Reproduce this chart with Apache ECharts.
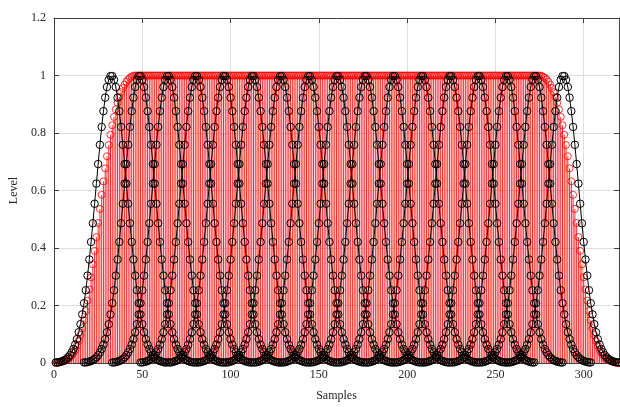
<!DOCTYPE html>
<html>
<head>
<meta charset="utf-8">
<script src="https://cdn.jsdelivr.net/npm/echarts@6/dist/echarts.min.js"></script>
<style>
  html, body { margin: 0; padding: 0; background: #fff; }
  #chart { width: 620px; height: 407px; }
</style>
</head>
<body>
<div id="chart"></div>
<script>
// One analysis window (64 samples), reused at every hop position
const windowShape = [
  0.002, 0.002, 0.003, 0.005, 0.007, 0.010, 0.014, 0.020, 0.027, 0.037,
  0.049, 0.064, 0.083, 0.107, 0.135, 0.169, 0.208, 0.253, 0.304, 0.360,
  0.421, 0.486, 0.554, 0.624, 0.692, 0.759, 0.821, 0.876, 0.923, 0.960,
  0.985, 0.998, 0.998, 0.985, 0.960, 0.923, 0.876, 0.821, 0.759, 0.692,
  0.624, 0.554, 0.486, 0.421, 0.360, 0.304, 0.253, 0.208, 0.169, 0.135,
  0.107, 0.083, 0.064, 0.049, 0.037, 0.027, 0.020, 0.014, 0.010, 0.007,
  0.005, 0.003, 0.002, 0.002
];

// First sample of each window (hop of 16 samples)
const windowStarts = [1, 17, 33, 49, 65, 81, 97, 113, 129, 145, 161, 177, 193, 209, 225, 241, 257];

// Normalised overlap-add of all windows, samples 1..320
const overlapSum = [
  0.000, 0.001, 0.002, 0.003, 0.005, 0.007, 0.010, 0.014, 0.019, 0.026,
  0.035, 0.046, 0.060, 0.077, 0.097, 0.121, 0.149, 0.181, 0.217, 0.256,
  0.298, 0.343, 0.390, 0.438, 0.487, 0.536, 0.585, 0.632, 0.677, 0.719,
  0.758, 0.794, 0.827, 0.856, 0.882, 0.905, 0.925, 0.942, 0.956, 0.968,
  0.978, 0.986, 0.992, 0.996, 0.999,
  1, 1, 1, 1, 1, 1, 1, 1, 1, 1,
  1, 1, 1, 1, 1, 1, 1, 1, 1, 1,
  1, 1, 1, 1, 1, 1, 1, 1, 1, 1,
  1, 1, 1, 1, 1, 1, 1, 1, 1, 1,
  1, 1, 1, 1, 1, 1, 1, 1, 1, 1,
  1, 1, 1, 1, 1, 1, 1, 1, 1, 1,
  1, 1, 1, 1, 1, 1, 1, 1, 1, 1,
  1, 1, 1, 1, 1, 1, 1, 1, 1, 1,
  1, 1, 1, 1, 1, 1, 1, 1, 1, 1,
  1, 1, 1, 1, 1, 1, 1, 1, 1, 1,
  1, 1, 1, 1, 1, 1, 1, 1, 1, 1,
  1, 1, 1, 1, 1, 1, 1, 1, 1, 1,
  1, 1, 1, 1, 1, 1, 1, 1, 1, 1,
  1, 1, 1, 1, 1, 1, 1, 1, 1, 1,
  1, 1, 1, 1, 1, 1, 1, 1, 1, 1,
  1, 1, 1, 1, 1, 1, 1, 1, 1, 1,
  1, 1, 1, 1, 1, 1, 1, 1, 1, 1,
  1, 1, 1, 1, 1, 1, 1, 1, 1, 1,
  1, 1, 1, 1, 1, 1, 1, 1, 1, 1,
  1, 1, 1, 1, 1, 1, 1, 1, 1, 1,
  1, 1, 1, 1, 1, 1, 1, 1, 1, 1,
  1, 1, 1, 1, 1, 1, 1, 1, 1, 1,
  1, 1, 1, 1, 1, 1, 1, 1, 1, 1,
  0.999, 0.996, 0.992, 0.986, 0.978, 0.968, 0.956, 0.942, 0.925, 0.905,
  0.882, 0.856, 0.827, 0.794, 0.758, 0.719, 0.677, 0.632, 0.585, 0.536,
  0.487, 0.438, 0.390, 0.343, 0.298, 0.256, 0.217, 0.181, 0.149, 0.121,
  0.097, 0.077, 0.060, 0.046, 0.035, 0.026, 0.019, 0.014, 0.010, 0.007,
  0.005, 0.003, 0.002, 0.001, 0.000
];

const xTickValues = [0, 50, 100, 150, 200, 250, 300];
const yTickValues = [0, 0.2, 0.4, 0.6, 0.8, 1, 1.2];

const FONT = 'Liberation Serif';
const INK = '#262626';
const AXIS = '#404040';
const GRID = '#dedede';

const sumPoints = overlapSum.map((v, i) => [i + 1, v]);

const windowSeries = windowStarts.map((start) => ({
  type: 'line',
  data: windowShape.map((v, j) => [start + j, v]),
  symbol: 'circle',
  symbolSize: 7.5,
  showAllSymbol: true,
  lineStyle: { color: '#000', width: 1 },
  itemStyle: { color: 'rgba(0,0,0,0)', borderColor: '#000', borderWidth: 1 },
  z: 4,
  silent: true
}));

const baseX = {
  type: 'value',
  min: 0,
  max: 320,
  interval: 50,
  axisLine: { show: true, onZero: false, lineStyle: { color: AXIS, width: 1 } },
  axisTick: { show: true, inside: true, length: 5, lineStyle: { color: AXIS } }
};
const baseY = {
  type: 'value',
  min: 0,
  max: 1.2,
  interval: 0.2,
  axisLine: { show: true, onZero: false, lineStyle: { color: AXIS, width: 1 } },
  axisTick: { show: true, inside: true, length: 5, lineStyle: { color: AXIS } }
};

const chart = echarts.init(document.getElementById('chart'), null, { renderer: 'canvas' });
chart.setOption({
  animation: false,
  backgroundColor: '#fff',
  grid: { left: 51, right: 1, top: 18, bottom: 39 },
  xAxis: [
    Object.assign({}, baseX, {
      position: 'bottom',
      name: 'Samples',
      nameLocation: 'middle',
      nameGap: 27,
      nameTextStyle: { fontFamily: FONT, fontSize: 12, color: INK },
      axisLabel: {
        fontFamily: FONT, fontSize: 12, color: INK, margin: 6,
        showMaxLabel: false,
        formatter: (v) => (xTickValues.indexOf(v) >= 0 ? String(v) : '')
      },
      splitLine: { show: true, lineStyle: { color: GRID, width: 1 } }
    }),
    Object.assign({}, baseX, {
      position: 'top',
      axisLabel: { show: false },
      splitLine: { show: false }
    })
  ],
  yAxis: [
    Object.assign({}, baseY, {
      position: 'left',
      name: 'Level',
      nameLocation: 'middle',
      nameGap: 34,
      nameTextStyle: { fontFamily: FONT, fontSize: 12, color: INK },
      axisLabel: {
        fontFamily: FONT, fontSize: 12, color: INK, margin: 8,
        formatter: (v) => {
          const hit = yTickValues.find((t) => Math.abs(t - v) < 1e-9);
          return hit === undefined ? '' : String(hit);
        }
      },
      splitLine: { show: true, lineStyle: { color: GRID, width: 1 } }
    }),
    Object.assign({}, baseY, {
      position: 'right',
      axisLabel: { show: false },
      splitLine: { show: false }
    })
  ],
  series: [
    {
      // red stems
      type: 'custom',
      data: sumPoints,
      z: 2,
      silent: true,
      clip: true,
      renderItem: (params, api) => {
        const x = api.value(0);
        const p0 = api.coord([x, 0]);
        const p1 = api.coord([x, api.value(1)]);
        return {
          type: 'line',
          shape: { x1: p0[0], y1: p0[1], x2: p1[0], y2: p1[1] },
          style: { stroke: '#ff0000', lineWidth: 0.85 }
        };
      }
    },
    {
      // stem heads
      type: 'scatter',
      data: sumPoints,
      symbol: 'circle',
      symbolSize: 7,
      z: 3,
      silent: true,
      itemStyle: { color: 'rgba(0,0,0,0)', borderColor: '#ff0000', borderWidth: 1 }
    }
  ].concat(windowSeries)
});
</script>
</body>
</html>
